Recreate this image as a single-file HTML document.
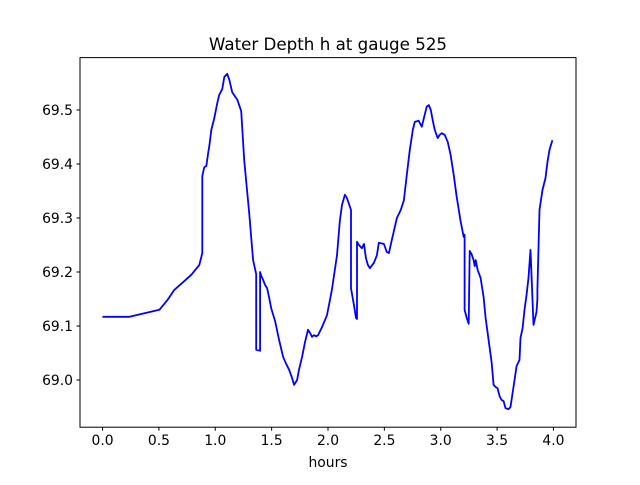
<!DOCTYPE html>
<html><head><meta charset="utf-8"><style>
body{margin:0;background:#fff;}
svg text{font-family:"DejaVu Sans","Liberation Sans",sans-serif;fill:#000;}
</style></head><body>
<svg id="chart" width="640" height="480" xmlns="http://www.w3.org/2000/svg">
<text x="328" y="50" font-size="16.7" text-anchor="middle">Water Depth h at gauge 525</text>
<g id="xt"></g>
<g id="yt"></g>
<path id="line" fill="none" stroke="#0000ff" stroke-width="1.8" stroke-linejoin="round"/>
<rect x="80" y="57.6" width="496" height="369.6" fill="none" stroke="#000" stroke-width="1"/>
<text x="328" y="467" font-size="13.9" text-anchor="middle">hours</text>
</svg>
<script>
const hours=[0,0.239,0.504,0.575,0.637,0.708,0.788,0.858,0.885,0.885,0.903,0.920,0.938,0.947,0.965,0.991,1.018,1.035,1.062,1.080,1.106,1.124,1.150,1.195,1.230,1.257,1.301,1.336,1.363,1.363,1.398,1.398,1.407,1.425,1.442,1.460,1.478,1.496,1.531,1.566,1.602,1.628,1.655,1.681,1.699,1.726,1.743,1.770,1.796,1.823,1.841,1.858,1.876,1.894,1.912,1.947,1.991,2.035,2.080,2.106,2.124,2.150,2.168,2.204,2.204,2.230,2.248,2.257,2.257,2.274,2.301,2.319,2.336,2.354,2.372,2.407,2.434,2.451,2.496,2.522,2.540,2.566,2.611,2.646,2.673,2.699,2.726,2.752,2.770,2.805,2.832,2.858,2.876,2.894,2.912,2.929,2.947,2.973,2.991,3.009,3.035,3.062,3.088,3.115,3.142,3.177,3.204,3.212,3.212,3.230,3.248,3.257,3.274,3.292,3.301,3.310,3.327,3.354,3.381,3.398,3.425,3.451,3.469,3.487,3.504,3.522,3.540,3.558,3.575,3.602,3.619,3.646,3.673,3.699,3.708,3.726,3.743,3.761,3.779,3.788,3.796,3.823,3.850,3.858,3.858,3.876,3.903,3.929,3.947,3.965,3.991];
const depth=[69.117,69.117,69.130,69.148,69.167,69.180,69.195,69.213,69.235,69.378,69.394,69.396,69.422,69.433,69.463,69.485,69.513,69.528,69.539,69.561,69.567,69.556,69.533,69.519,69.498,69.407,69.309,69.222,69.196,69.056,69.054,69.200,69.193,69.185,69.176,69.170,69.152,69.133,69.109,69.074,69.043,69.030,69.019,69.004,68.991,69.000,69.019,69.043,69.070,69.093,69.087,69.080,69.083,69.081,69.083,69.098,69.120,69.167,69.231,69.296,69.324,69.343,69.337,69.315,69.170,69.139,69.115,69.113,69.256,69.250,69.244,69.252,69.226,69.213,69.207,69.217,69.231,69.254,69.252,69.237,69.235,69.259,69.300,69.315,69.333,69.380,69.426,69.463,69.478,69.480,69.469,69.491,69.506,69.509,69.500,69.481,69.463,69.448,69.454,69.457,69.454,69.441,69.417,69.380,69.339,69.293,69.265,69.269,69.130,69.115,69.104,69.239,69.233,69.222,69.211,69.222,69.204,69.189,69.152,69.115,69.074,69.033,68.991,68.987,68.985,68.970,68.963,68.961,68.948,68.946,68.950,68.987,69.026,69.037,69.078,69.096,69.130,69.157,69.189,69.218,69.241,69.102,69.126,69.150,69.167,69.315,69.352,69.374,69.404,69.426,69.444,69.457,69.491];
const xTicks=[0,0.5,1,1.5,2,2.5,3,3.5,4];
const yTicks=[69.0,69.1,69.2,69.3,69.4,69.5];
const X0=80,X1=576,Y0=57.6,Y1=427.2,xmin=-0.2,xmax=4.2,ymin=68.9126,ymax=69.597;
const xs=v=>X0+(v-xmin)/(xmax-xmin)*(X1-X0);
const ys=v=>Y1-(v-ymin)/(ymax-ymin)*(Y1-Y0);
const NS="http://www.w3.org/2000/svg";
document.getElementById('line').setAttribute('d',hours.map((h,i)=>(i?'L':'M')+xs(h).toFixed(1)+','+ys(depth[i]).toFixed(1)).join(''));
const xg=document.getElementById('xt'),yg=document.getElementById('yt');
xTicks.forEach(t=>{const x=xs(t);
 const l=document.createElementNS(NS,'line');
 
 
 l.setAttribute('x1',x);l.setAttribute('x2',x);l.setAttribute('y1',Y1);l.setAttribute('y2',Y1+3.5);l.setAttribute('stroke','#000');xg.appendChild(l);
 const tx=document.createElementNS(NS,'text');
 
 
 tx.setAttribute('x',x);tx.setAttribute('y',Y1+18);tx.setAttribute('font-size','13.9');tx.setAttribute('text-anchor','middle');tx.textContent=t.toFixed(1);xg.appendChild(tx);});
yTicks.forEach(t=>{const y=ys(t);
 const l=document.createElementNS(NS,'line');
 
 
 l.setAttribute('x1',X0-3.5);l.setAttribute('x2',X0);l.setAttribute('y1',y);l.setAttribute('y2',y);l.setAttribute('stroke','#000');yg.appendChild(l);
 const tx=document.createElementNS(NS,'text');
 
 
 tx.setAttribute('x',X0-7);tx.setAttribute('y',y+5);tx.setAttribute('font-size','13.9');tx.setAttribute('text-anchor','end');tx.textContent=t.toFixed(1);yg.appendChild(tx);});
</script>
</body></html>
